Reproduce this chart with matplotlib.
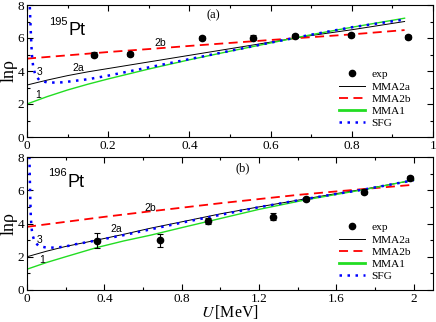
import matplotlib
matplotlib.use("Agg")
import matplotlib.pyplot as plt
from matplotlib.ticker import MultipleLocator
from matplotlib.legend_handler import HandlerLine2D

plt.rcParams['font.family'] = ['Liberation Serif', 'DejaVu Serif']
plt.rcParams['mathtext.fontset'] = 'stix'

# ---------------- data: 195Pt (panel a) ----------------
exp_a_U = [0.165, 0.254, 0.432, 0.556, 0.661, 0.799, 0.938]
exp_a_y = [4.98, 5.03, 6.0, 6.02, 6.12, 6.2, 6.08]
exp_a_err = [0.15, 0.15, 0.15, 0.15, 0.12, 0.12, 0.12]

U_a = [0, 0.05, 0.1, 0.15, 0.2, 0.3, 0.4, 0.5, 0.6, 0.7, 0.8, 0.93]
mma2a_a = [3.15, 3.45, 3.72, 3.95, 4.15, 4.55, 4.95, 5.35, 5.75, 6.15, 6.5, 7.0]
mma2b_a = [4.75, 4.85, 4.95, 5.05, 5.15, 5.33, 5.52, 5.7, 5.88, 6.05, 6.22, 6.48]
mma1_a = [2.0, 2.45, 2.85, 3.2, 3.52, 4.12, 4.68, 5.2, 5.7, 6.2, 6.65, 7.2]
U_sfg_a = [0.006, 0.008, 0.01, 0.012, 0.015, 0.02, 0.03, 0.05, 0.08, 0.1,
           0.15, 0.2, 0.3, 0.4, 0.5, 0.6, 0.7, 0.8, 0.93]
sfg_a = [8.5, 7.2, 6.0, 5.0, 4.3, 3.8, 3.45, 3.3, 3.3, 3.35,
         3.5, 3.72, 4.22, 4.72, 5.22, 5.72, 6.2, 6.65, 7.12]

# ---------------- data: 196Pt (panel b) ----------------
exp_b_U = [0.36, 0.687, 0.937, 1.271, 1.443, 1.745, 1.98]
exp_b_y = [2.97, 2.99, 4.16, 4.42, 5.48, 5.92, 6.73]
exp_b_err = [0.45, 0.4, 0.2, 0.2, 0.1, 0.15, 0.1]

U_b = [0, 0.1, 0.2, 0.36, 0.5, 0.64, 0.8, 1.0, 1.2, 1.44, 1.6, 1.75, 2.0]
mma2a_b = [2.0, 2.33, 2.62, 3.0, 3.35, 3.72, 4.1, 4.58, 5.0, 5.48, 5.8, 6.08, 6.6]
mma1_b = [1.25, 1.65, 2.0, 2.55, 2.95, 3.3, 3.75, 4.3, 4.85, 5.42, 5.75, 6.05, 6.62]
U_red_b = [0, 0.2, 0.4, 0.6, 0.8, 1.0, 1.2, 1.4, 1.6, 1.8, 2.0]
mma2b_b = [3.8, 4.1, 4.4, 4.68, 4.95, 5.22, 5.47, 5.72, 5.93, 6.13, 6.33]
U_sfg_b = [0.012, 0.014, 0.017, 0.02, 0.025, 0.03, 0.04, 0.06, 0.1, 0.15, 0.2,
           0.25, 0.36, 0.5, 0.64, 0.8, 1.0, 1.2, 1.44, 1.6, 1.75, 2.0]
sfg_b = [8.5, 7.0, 5.5, 4.3, 3.6, 3.25, 2.9, 2.65, 2.55, 2.55, 2.62,
         2.75, 2.98, 3.3, 3.65, 4.05, 4.52, 4.98, 5.47, 5.78, 6.06, 6.6]

legend_labels = ['exp', 'MMA2a', 'MMA2b', 'MMA1', 'SFG']


class RightMarker(HandlerLine2D):
    def get_xdata(self, legend, xdescent, ydescent, width, height, fontsize):
        xd, xm = super().get_xdata(legend, xdescent, ydescent, width, height, fontsize)
        return xd, [-xdescent + 0.85 * width]


fig = plt.figure(figsize=(4.36, 3.22), dpi=100)
W, H = 436.0, 322.0
ax1 = fig.add_axes([27 / W, (H - 137) / H, 406 / W, 132 / H])
ax2 = fig.add_axes([27 / W, (H - 290) / H, 406 / W, 133 / H])


def draw(ax, U, a2a, U2b, a2b, a1, Us, sfg, eU, ey, ee):
    ax.plot(U, a2a, color='black', lw=0.7)
    ax.plot(U2b, a2b, color='red', lw=1.3, linestyle=(0, (5, 3)))
    ax.plot(U, a1, color='#22dd22', lw=1.0)
    ax.plot(Us, sfg, color='blue', lw=1.8, linestyle=(0, (1, 2.2)))
    ax.errorbar(eU, ey, yerr=ee, fmt='none', ecolor='black', elinewidth=0.8,
                capsize=2.5, capthick=0.8)
    ax.plot(eU, ey, 'o', color='black', markersize=4.5)
    h = [plt.Line2D([], [], color='black', marker='o', markersize=4.5, linestyle='none'),
         plt.Line2D([], [], color='black', lw=0.7),
         plt.Line2D([], [], color='red', lw=1.3, linestyle=(0, (5, 3))),
         plt.Line2D([], [], color='#22dd22', lw=2.0),
         plt.Line2D([], [], color='blue', lw=1.8, linestyle=(0, (1, 2.2)))]
    ax.legend(h, legend_labels, loc='lower left', bbox_to_anchor=(0.755, 0.025),
              frameon=False, fontsize=8.2, handlelength=2.3, handletextpad=0.55,
              labelspacing=0.19, borderpad=0, numpoints=1,
              handler_map={h[0]: RightMarker()})
    ax.set_ylim(0, 8)
    ax.yaxis.set_minor_locator(MultipleLocator(1))
    ax.tick_params(which='both', direction='in', top=True, right=True, labelsize=9.5, pad=2)
    ax.tick_params(which='major', length=4, width=0.8)
    ax.tick_params(which='minor', length=2.5, width=0.8)
    ax.set_ylabel('lnρ', fontsize=13, labelpad=0)
    ax.set_yticks([0, 2, 4, 6, 8])
    ax.set_yticklabels(['0', '2', '4', '6', '8'], fontsize=9.5)


draw(ax1, U_a, mma2a_a, U_a, mma2b_a, mma1_a, U_sfg_a, sfg_a, exp_a_U, exp_a_y, exp_a_err)
draw(ax2, U_b, mma2a_b, U_red_b, mma2b_b, mma1_b, U_sfg_b, sfg_b, exp_b_U, exp_b_y, exp_b_err)

ax1.set_xlim(0, 1)
ax1.set_xticks([0, 0.2, 0.4, 0.6, 0.8, 1.0])
ax1.set_xticklabels(['0', '0.2', '0.4', '0.6', '0.8', '1'], fontsize=9.5)
ax1.xaxis.set_minor_locator(MultipleLocator(0.1))

ax2.set_xlim(0, 2.1)
ax2.set_xticks([0, 0.4, 0.8, 1.2, 1.6, 2.0])
ax2.set_xticklabels(['0', '0.4', '0.8', '1.2', '1.6', '2'], fontsize=9.5)
ax2.xaxis.set_minor_locator(MultipleLocator(0.2))
ax2.set_xlabel(r'$U\,$[MeV]', fontsize=11.5, labelpad=-1)

sans = ['Liberation Sans', 'DejaVu Sans']
# panel labels
ax1.text(0.46, 7.4, '(a)', fontsize=9, ha='center', va='center')
ax2.text(1.116, 7.33, '(b)', fontsize=9, ha='center', va='center')
# isotope labels
ax1.text(0.101, 6.18, 'Pt', fontsize=13, family=sans, ha='left', va='baseline')
ax1.annotate('195', xy=(0.101, 6.18), xytext=(-0.3, 7.5), textcoords='offset points',
             fontsize=8, family=sans, ha='right', va='baseline')
ax2.text(0.207, 6.22, 'Pt', fontsize=13, family=sans, ha='left', va='baseline')
ax2.annotate('196', xy=(0.207, 6.22), xytext=(-0.3, 7.5), textcoords='offset points',
             fontsize=8, family=sans, ha='right', va='baseline')
# curve labels
for ax, items in ((ax1, [(0.126, 4.18, '2a'), (0.328, 5.72, '2b'), (0.032, 3.96, '3'), (0.028, 2.55, '1')]),
                  (ax2, [(0.463, 3.67, '2a'), (0.636, 4.96, '2b'), (0.067, 3.0, '3'), (0.076, 1.8, '1')])):
    for x, y, s in items:
        ax.text(x, y, s, fontsize=7.5, family=sans, ha='center', va='center')

fig.savefig('out.png', dpi=100)
